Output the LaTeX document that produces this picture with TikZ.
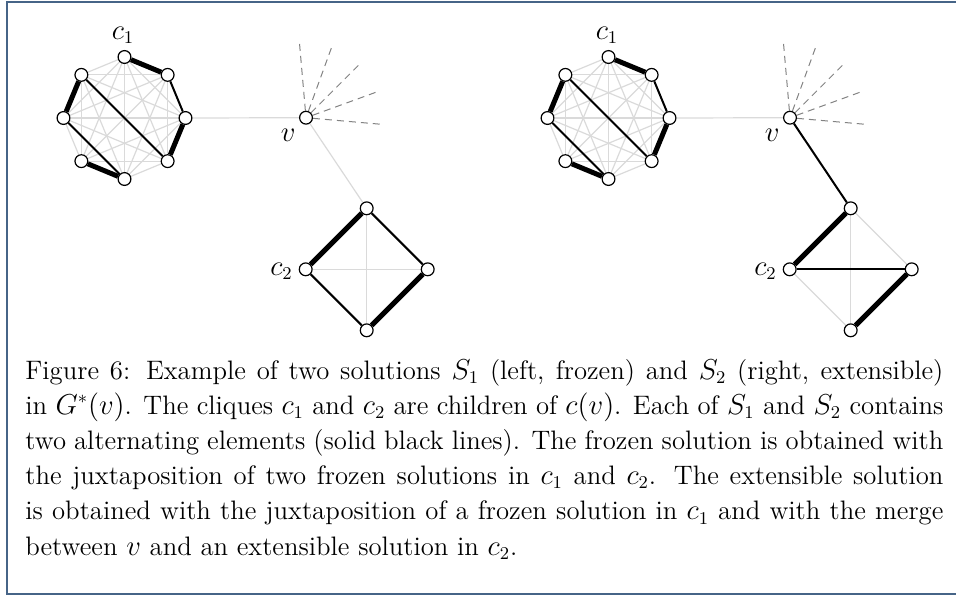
\documentclass[tikz,border=0pt]{standalone}
\usepackage{tikz}
\definecolor{framec}{RGB}{70,100,135}
\definecolor{edgegray}{RGB}{218,218,218}
\definecolor{dashgray}{RGB}{130,130,130}
\pgfdeclarelayer{bg}
\pgfsetlayers{bg,main}
\tikzset{
 vtx/.style={circle,draw=black,fill=white,line width=0.6pt,inner sep=0pt,minimum size=6.4pt},
 lite/.style={draw=edgegray,line width=0.6pt},
 thinedge/.style={draw=black,line width=1pt},
 heavy/.style={draw=black,line width=2.5pt},
 ray/.style={draw=dashgray,line width=0.5pt,dash pattern=on 3.5pt off 2.5pt},
 lbl/.style={inner sep=0pt,font=\fontsize{13.4}{16}\selectfont}
}
\begin{document}
\begin{tikzpicture}[x=0.5pt,y=-0.5pt]
\useasboundingbox (0,0) rectangle (956,596);
\draw[framec,line width=0.8pt] (956,2) -- (7,2) -- (7,594) -- (956,594);

\foreach \p/\dx in {L/0, R/484} {
  \foreach \i in {0,...,7} {
    \node[vtx] (\p\i) at ({124.5+\dx+61*cos(45*\i)},{118-61*sin(45*\i)}) {};
  }
  \node[vtx] (v\p) at (306+\dx,117.7) {};
  \node[vtx] (\p qa) at (366.7+\dx,208.3) {};
  \node[vtx] (\p qb) at (305.7+\dx,269.3) {};
  \node[vtx] (\p qc) at (427.7+\dx,269.3) {};
  \node[vtx] (\p qd) at (366.7+\dx,330.3) {};
  \node[lbl] (c1\p) at (123+\dx,35) {$c_1$};
  \node[lbl] (vl\p) at (288.3+\dx,135.5) {$v$};
  \node[lbl] (c2\p) at (281.5+\dx,271) {$c_2$};
  \foreach \k/\a in {1/95,2/70,3/45,4/20,5/-5} {
    \coordinate (ray\p\k) at ({306+\dx+76*cos(\a)},{117.7-76*sin(\a)});
  }
}

\begin{pgfonlayer}{bg}
\foreach \p in {L,R} {
  \foreach \i in {0,...,6} {
    \pgfmathtruncatemacro{\s}{\i+1}
    \foreach \j in {\s,...,7} {
      \draw[lite] (\p\i) -- (\p\j);
    }
  }
  \draw[lite] (\p0) -- (v\p);
  \foreach \k in {1,...,5} { \draw[ray] (v\p) -- (ray\p\k); }
  % octagon solution (same on both sides)
  \draw[heavy] (\p2) -- (\p1);
  \draw[heavy] (\p0) -- (\p7);
  \draw[heavy] (\p3) -- (\p4);
  \draw[heavy] (\p5) -- (\p6);
  \draw[thinedge] (\p1) -- (\p0);
  \draw[thinedge] (\p3) -- (\p7);
  \draw[thinedge] (\p4) -- (\p6);
  % square
  \draw[heavy] (\p qa) -- (\p qb);
  \draw[heavy] (\p qc) -- (\p qd);
  \draw[lite] (\p qa) -- (\p qd);
}
% left square
\draw[lite] (vL) -- (Lqa);
\draw[thinedge] (Lqa) -- (Lqc);
\draw[thinedge] (Lqb) -- (Lqd);
\draw[lite] (Lqb) -- (Lqc);
% right square
\draw[thinedge] (vR) -- (Rqa);
\draw[thinedge] (Rqb) -- (Rqc);
\draw[lite] (Rqa) -- (Rqc);
\draw[lite] (Rqb) -- (Rqd);
\end{pgfonlayer}

\node[anchor=base west,inner sep=0pt] (cap) at (25,379) {\parbox[t]{459pt}{\fontsize{13.35}{17.6}\selectfont\hyphenpenalty=10000
Figure 6: Example of two solutions $S_1$ (left, frozen) and $S_2$ (right, extensible)\linebreak
in $G^*(v)$. The cliques $c_1$ and $c_2$ are children of $c(v)$. Each of $S_1$ and $S_2$ contains\linebreak
two alternating elements (solid black lines). The frozen solution is obtained with\linebreak
the juxtaposition of two frozen solutions in $c_1$ and $c_2$. The extensible solution\linebreak
is obtained with the juxtaposition of a frozen solution in $c_1$ and with the merge\linebreak
between $v$ and an extensible solution in $c_2$.}};
\end{tikzpicture}
\end{document}
